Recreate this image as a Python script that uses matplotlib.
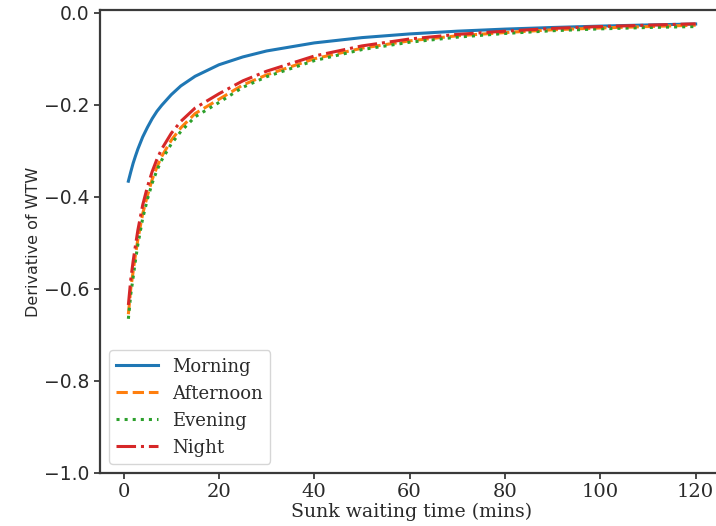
import matplotlib.pyplot as plt

# sunk waiting time (mins)
x = [1, 1.5, 2, 2.5, 3, 4, 5, 6, 7, 8, 10, 12, 15, 20, 25, 30,
     40, 50, 60, 70, 80, 90, 100, 110, 120]

morning = [-0.366, -0.346, -0.327, -0.311, -0.296, -0.270, -0.249, -0.230,
           -0.214, -0.201, -0.178, -0.159, -0.138, -0.113, -0.096, -0.083,
           -0.0655, -0.054, -0.046, -0.040, -0.0355, -0.032, -0.029, -0.0265, -0.0244]
afternoon = [-0.655, -0.600, -0.562, -0.525, -0.492, -0.437, -0.397, -0.362,
             -0.335, -0.312, -0.277, -0.250, -0.219, -0.188, -0.157, -0.135,
             -0.100, -0.077, -0.061, -0.050, -0.043, -0.037, -0.033, -0.030, -0.027]
evening = [-0.665, -0.612, -0.575, -0.537, -0.503, -0.447, -0.405, -0.370,
           -0.342, -0.320, -0.285, -0.258, -0.226, -0.195, -0.162, -0.139,
           -0.104, -0.080, -0.064, -0.053, -0.045, -0.039, -0.035, -0.032, -0.030]
night = [-0.635, -0.580, -0.540, -0.505, -0.472, -0.418, -0.378, -0.345,
         -0.318, -0.296, -0.262, -0.236, -0.207, -0.176, -0.148, -0.127,
         -0.094, -0.072, -0.057, -0.047, -0.040, -0.034, -0.030, -0.027, -0.024]

series = [("Morning", morning, "-"), ("Afternoon", afternoon, "--"),
          ("Evening", evening, ":"), ("Night", night, "-.")]
colors = ["#1f77b4", "#ff7f0e", "#2ca02c", "#d62728"]

fig = plt.figure(figsize=(7.16, 5.26), dpi=100)
ax = fig.add_axes([100 / 716, 53 / 526, 624 / 716, 463 / 526])

for (name, vals, ls), c in zip(series, colors):
    ax.plot(x, vals, ls, color=c, lw=2.2, label=name)

ax.set_xlim(-4.95, 125.95)
ax.set_ylim(-1.0, 0.006)
ax.set_xticks([0, 20, 40, 60, 80, 100, 120])
ax.set_yticks([-1.0, -0.8, -0.6, -0.4, -0.2, 0.0])

for sp in ax.spines.values():
    sp.set_color("#3a3a3a")
    sp.set_linewidth(1.6)
# the right edge of the frame is cut off in the original picture
ax.spines["right"].set_visible(False)
ax.tick_params(colors="#3a3a3a", width=1.3, length=4)
for lab in ax.get_xticklabels():
    lab.set_family("DejaVu Serif")
    lab.set_fontsize(14)
    lab.set_color("#2a2a2a")
for lab in ax.get_yticklabels():
    lab.set_fontsize(13.5)
    lab.set_color("#2a2a2a")

ax.set_xlabel("Sunk waiting time (mins)", family="DejaVu Serif", fontsize=13.6,
              color="#2a2a2a", labelpad=1)
ax.set_ylabel("Derivative of WTW", fontsize=11.5, color="#2a2a2a", labelpad=2)

ax.legend(loc="lower left", prop={"family": "DejaVu Serif", "size": 13},
          handlelength=2.3, labelcolor="#2a2a2a")

fig.savefig("out.png", dpi=100)
